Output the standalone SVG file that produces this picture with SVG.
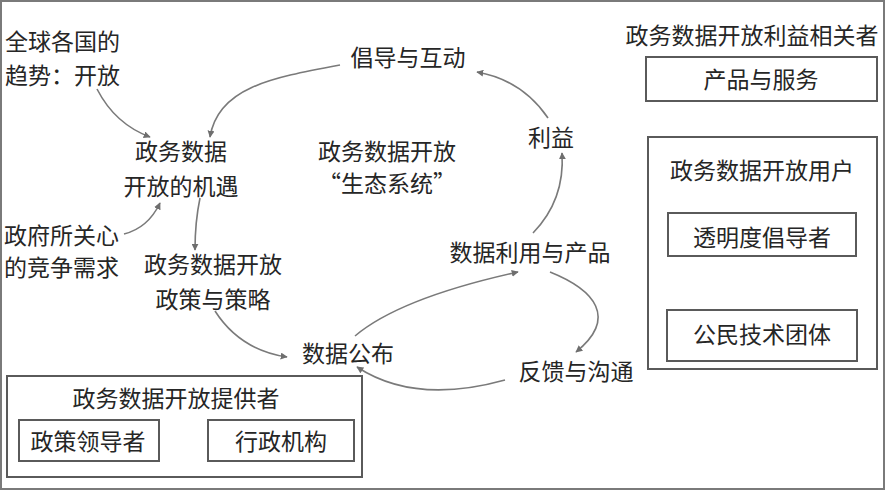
<svg xmlns="http://www.w3.org/2000/svg" width="885" height="490" viewBox="0 0 885 490">
<defs>
<style>
text{font-family:"Noto Sans CJK SC","Noto Sans CJK JP",sans-serif;font-size:23px;fill:#262626;text-anchor:middle}
.l{text-anchor:start}
.box{fill:none;stroke:#5a5a5a;stroke-width:2}
.c{fill:none;stroke:#7a7a7a;stroke-width:1.6}
</style>
<marker id="ah" viewBox="0 0 10 10" refX="9" refY="5" markerWidth="7" markerHeight="7" markerUnits="userSpaceOnUse" orient="auto">
<path d="M0,0L10,5L0,10z" fill="#6e6e6e"/>
</marker>
</defs>
<rect x="1" y="1" width="883" height="488" fill="#fff" stroke="#7a7a7a" stroke-width="2"/>

<g id="trend"><text class="l" x="5" y="50">全球各国的</text><text class="l" x="5" y="84">趋势：开放</text></g>
<g id="opportunity"><text x="181" y="160">政务数据</text><text x="181" y="195">开放的机遇</text></g>
<g id="need"><text class="l" x="4" y="244">政府所关心</text><text class="l" x="4" y="276">的竞争需求</text></g>
<g id="policy"><text x="213" y="273">政务数据开放</text><text x="213" y="308">政策与策略</text></g>
<g id="publish"><text x="348" y="362">数据公布</text></g>
<g id="advocacy"><text x="408" y="66">倡导与互动</text></g>
<g id="benefit"><text x="551" y="146">利益</text></g>
<g id="ecosystem"><text x="387" y="160">政务数据开放</text><text x="387" y="192">“生态系统”</text></g>
<g id="use"><text x="530" y="261">数据利用与产品</text></g>
<g id="feedback"><text x="576" y="380">反馈与沟通</text></g>

<g id="providers">
<rect class="box" x="7" y="376" width="355" height="101"/>
<text x="176" y="407">政务数据开放提供者</text>
<rect class="box" x="19" y="420" width="140" height="41"/>
<text x="88" y="450">政策领导者</text>
<rect class="box" x="208" y="420" width="146" height="41"/>
<text x="281" y="450">行政机构</text>
</g>

<g id="stakeholders">
<text x="752" y="44">政务数据开放利益相关者</text>
<rect class="box" x="646" y="57" width="231" height="44"/>
<text x="761" y="88">产品与服务</text>
</g>

<g id="users">
<rect class="box" x="648" y="137" width="229" height="232"/>
<text x="762" y="179">政务数据开放用户</text>
<rect class="box" x="668" y="213" width="188" height="43"/>
<text x="762" y="246">透明度倡导者</text>
<rect class="box" x="667" y="310" width="190" height="51"/>
<text x="762" y="343">公民技术团体</text>
</g>

<g id="connectors">
<path class="c" marker-end="url(#ah)" d="M97,89 Q115,124 150,137"/>
<path class="c" marker-end="url(#ah)" d="M340,65 C270,78 218,88 210,137"/>
<path class="c" marker-end="url(#ah)" d="M124,234 Q148,228 160,203"/>
<path class="c" marker-end="url(#ah)" d="M200,198 Q195,222 195,250"/>
<path class="c" marker-end="url(#ah)" d="M215,311 Q240,350 287,357"/>
<path class="c" marker-end="url(#ah)" d="M355,336 Q400,298 518,272"/>
<path class="c" marker-end="url(#ah)" d="M550,272 C595,290 618,318 576,352"/>
<path class="c" marker-end="url(#ah)" d="M505,380 Q415,405 357,367"/>
<path class="c" marker-end="url(#ah)" d="M533,233 Q565,200 562,153"/>
<path class="c" marker-end="url(#ah)" d="M548,118 Q522,80 477,72"/>
</g>
</svg>
